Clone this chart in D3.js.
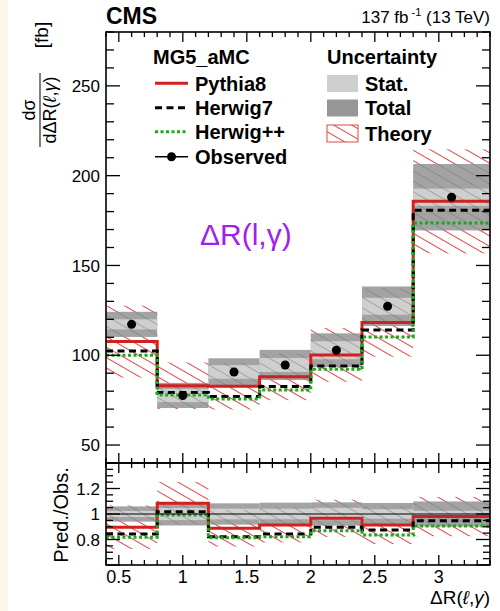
<!DOCTYPE html>
<html><head><meta charset="utf-8">
<script src="https://cdn.jsdelivr.net/npm/d3@7"></script>
<style>
html,body{margin:0;padding:0;background:#fff;}
svg{display:block;font-family:"Liberation Sans",Arial,Helvetica,sans-serif;}
</style></head>
<body>
<svg id="c" width="500" height="611"></svg>
<script>
// ---------------- data ----------------
const binEdges = [0.4, 0.8, 1.2, 1.6, 2.0, 2.4, 2.8, 3.4];
const observed = [117.2, 77.6, 90.7, 94.6, 102.8, 127.3, 188.0];
const statUnc  = [2.8, 3.7, 3.8, 3.9, 5.0, 4.7, 4.8];
const totalUnc = [7.0, 7.0, 7.6, 8.4, 9.4, 11.0, 18.5];
const pythia8  = [107.6, 83.0, 82.8, 88.0, 100.2, 118.2, 185.7];
const herwig7  = [102.4, 79.2, 77.0, 82.6, 94.0, 114.0, 180.7];
const herwigpp = [100.0, 77.8, 75.6, 80.6, 92.2, 110.2, 173.7];
const theoryUnc = [20, 13, 13, 13, 15, 19, 29];
const ratioPythia8  = [0.896, 1.084, 0.888, 0.914, 0.966, 0.914, 0.980];
const ratioHerwig7  = [0.843, 1.018, 0.822, 0.843, 0.896, 0.875, 0.948];
const ratioHerwigpp = [0.817, 0.992, 0.814, 0.822, 0.869, 0.835, 0.906];
const xTickLabels = [0.5, 1, 1.5, 2, 2.5, 3];
const yTickLabels = [50, 100, 150, 200, 250];
const rTickLabels = [0.8, 1, 1.2];

// ---------------- layout ----------------
const L = 106, R = 490, T = 32, MID = 463, B = 565;
const svg = d3.select("#c");
const x = d3.scaleLinear().domain([0.4, 3.4]).range([L, R]);
const y = d3.scaleLinear().domain([40, 280]).range([MID, T]);
const yr = d3.scaleLinear().domain([0.6, 1.4]).range([B, MID]);

const RED = "#d21f1f", GREEN = "#1fa61f", STAT = "#cfcfcf", TOTAL = "#a3a3a3", HATCH = "#e04848";

svg.append("rect").attr("x",0).attr("y",0).attr("width",8).attr("height",611).attr("fill","#fdf7e9");

const defs = svg.append("defs");
function hatchPattern(id, color, op){
  const p = defs.append("pattern").attr("id", id).attr("patternUnits","userSpaceOnUse")
    .attr("width", 10).attr("height", 9).attr("patternTransform","rotate(30)");
  p.append("line").attr("x1",-1).attr("x2",11).attr("y1",4.5).attr("y2",4.5)
    .attr("stroke", color).attr("stroke-width",1).attr("stroke-opacity",op);
}
hatchPattern("hatchRed", HATCH, 1);
hatchPattern("hatchGrey", "#6e6e6e", 0.45);
defs.append("clipPath").attr("id","clipU").append("rect").attr("x",L).attr("y",T).attr("width",R-L).attr("height",MID-T);
defs.append("clipPath").attr("id","clipR").append("rect").attr("x",L).attr("y",MID).attr("width",R-L).attr("height",B-MID);

const nb = observed.length;
const bins = d3.range(nb).map(i => ({i, x0: binEdges[i], x1: binEdges[i+1], xc: (binEdges[i]+binEdges[i+1])/2}));

function drawPanel(g, ys, obsC, statC, totC, theoC, theoU, lines){
  // theory band
  g.selectAll(null).data(bins).join("rect")
    .attr("x", d => x(d.x0)).attr("width", d => x(d.x1)-x(d.x0))
    .attr("y", d => ys(theoC[d.i]+theoU[d.i])).attr("height", d => ys(theoC[d.i]-theoU[d.i]) - ys(theoC[d.i]+theoU[d.i]))
    .attr("fill","url(#hatchRed)");
  // total
  g.selectAll(null).data(bins).join("rect")
    .attr("x", d => x(d.x0)).attr("width", d => x(d.x1)-x(d.x0))
    .attr("y", d => ys(obsC[d.i]+totC[d.i])).attr("height", d => ys(obsC[d.i]-totC[d.i]) - ys(obsC[d.i]+totC[d.i]))
    .attr("fill", TOTAL);
  // stat
  g.selectAll(null).data(bins).join("rect")
    .attr("x", d => x(d.x0)).attr("width", d => x(d.x1)-x(d.x0))
    .attr("y", d => ys(obsC[d.i]+statC[d.i])).attr("height", d => ys(obsC[d.i]-statC[d.i]) - ys(obsC[d.i]+statC[d.i]))
    .attr("fill", STAT);
  // hatch seen through the boxes
  g.selectAll(null).data(bins).join("rect")
    .attr("x", d => x(d.x0)).attr("width", d => x(d.x1)-x(d.x0))
    .attr("y", d => ys(Math.min(obsC[d.i]+totC[d.i], theoC[d.i]+theoU[d.i])))
    .attr("height", d => Math.max(0, ys(Math.max(obsC[d.i]-totC[d.i], theoC[d.i]-theoU[d.i])) - ys(Math.min(obsC[d.i]+totC[d.i], theoC[d.i]+theoU[d.i]))))
    .attr("fill","url(#hatchGrey)");
  // step lines
  lines.forEach(s => {
    const pts = s.vals.map((v,i) => [binEdges[i], v]);
    pts.push([binEdges[nb], s.vals[nb-1]]);
    g.append("path").attr("d", d3.line().x(p => x(p[0])).y(p => ys(p[1])).curve(d3.curveStepAfter)(pts))
      .attr("fill","none").attr("stroke", s.color).attr("stroke-width", 3)
      .attr("stroke-dasharray", s.dash || null);
  });
}

const gU = svg.append("g").attr("clip-path","url(#clipU)");
drawPanel(gU, y, observed, statUnc, totalUnc, pythia8, theoryUnc, [
  {vals: pythia8, color: RED},
  {vals: herwig7, color: "#000", dash: "7,4.5"},
  {vals: herwigpp, color: GREEN, dash: "3,2.5"}
]);
gU.selectAll(null).data(bins).join("circle")
  .attr("cx", d => x(d.xc)).attr("cy", d => y(observed[d.i])).attr("r", 4.5).attr("fill","#000");

const gR = svg.append("g").attr("clip-path","url(#clipR)");
const ones = observed.map(() => 1);
drawPanel(gR, yr, ones, statUnc.map((s,i)=>s/observed[i]), totalUnc.map((s,i)=>s/observed[i]),
  ratioPythia8, theoryUnc.map((s,i)=>s/observed[i]), [
  {vals: ratioPythia8, color: RED},
  {vals: ratioHerwig7, color: "#000", dash: "7,4.5"},
  {vals: ratioHerwigpp, color: GREEN, dash: "3,2.5"}
]);
gR.append("line").attr("x1",L).attr("x2",R).attr("y1",yr(1)).attr("y2",yr(1)).attr("stroke","#000").attr("stroke-width",1);

// ---------------- frames & ticks ----------------
const ax = svg.append("g").attr("stroke","#000").attr("stroke-width",1.3);
ax.append("rect").attr("x",L).attr("y",T).attr("width",R-L).attr("height",MID-T).attr("fill","none").attr("stroke-width",1.6);
ax.append("rect").attr("x",L).attr("y",MID).attr("width",R-L).attr("height",B-MID).attr("fill","none").attr("stroke-width",1.6);

const xMinor = d3.range(4, 35).map(v => v/10);
const isMajorX = v => Math.abs(v*2 - Math.round(v*2)) < 1e-6;
function xTicks(yPos, dir){
  xMinor.forEach(v => {
    const len = isMajorX(v) ? 10 : 5;
    ax.append("line").attr("x1",x(v)).attr("x2",x(v)).attr("y1",yPos).attr("y2",yPos+dir*len);
  });
}
xTicks(T, 1); xTicks(MID, -1); xTicks(MID, 1); xTicks(B, -1);

d3.range(40, 281, 10).forEach(v => {
  const len = (v % 50 === 0) ? 14 : 8;
  ax.append("line").attr("x1",L).attr("x2",L+len).attr("y1",y(v)).attr("y2",y(v));
  ax.append("line").attr("x1",R).attr("x2",R-len).attr("y1",y(v)).attr("y2",y(v));
});
d3.range(12, 29).map(v => v*0.05).forEach(v => {
  const major = Math.abs(v*5 - Math.round(v*5)) < 1e-6;
  const len = major ? 14 : 7;
  ax.append("line").attr("x1",L).attr("x2",L+len).attr("y1",yr(v)).attr("y2",yr(v));
  ax.append("line").attr("x1",R).attr("x2",R-len).attr("y1",yr(v)).attr("y2",yr(v));
});

// ---------------- labels ----------------
const txt = svg.append("g").attr("fill","#000");
yTickLabels.forEach(v => txt.append("text").attr("x", L-6).attr("y", y(v)).attr("dy","0.36em")
  .attr("text-anchor","end").attr("font-size",17).text(v));
rTickLabels.forEach(v => txt.append("text").attr("x", L-6).attr("y", yr(v)).attr("dy","0.36em")
  .attr("text-anchor","end").attr("font-size",17).text(v));
xTickLabels.forEach(v => txt.append("text").attr("x", x(v)).attr("y", 583)
  .attr("text-anchor","middle").attr("font-size",18).text(v));

// x-axis title
const xt = txt.append("text").attr("x", R).attr("y", 604).attr("text-anchor","end").attr("font-size",19);
xt.append("tspan").text("ΔR(");
xt.append("tspan").attr("font-style","italic").text("ℓ");
xt.append("tspan").text(",");
xt.append("tspan").attr("font-style","italic").text("γ");
xt.append("tspan").text(")");

// upper y title (rotated fraction)
const yl = txt.append("g").attr("transform","rotate(-90)");
yl.append("text").attr("x",-110).attr("y",35).attr("text-anchor","middle").attr("font-size",18).text("dσ");
yl.append("line").attr("x1",-147).attr("x2",-73).attr("y1",40).attr("y2",40).attr("stroke","#000").attr("stroke-width",1);
const den = yl.append("text").attr("x",-110).attr("y",56).attr("text-anchor","middle").attr("font-size",18);
den.append("tspan").text("dΔR(");
den.append("tspan").attr("font-style","italic").text("ℓ");
den.append("tspan").text(",");
den.append("tspan").attr("font-style","italic").text("γ");
den.append("tspan").text(")");
yl.append("text").attr("x",-35).attr("y",48).attr("text-anchor","middle").attr("font-size",19).text("[fb]");

// ratio y title
txt.append("text").attr("transform","rotate(-90)").attr("x",-515).attr("y",68)
  .attr("text-anchor","middle").attr("font-size",20).text("Pred./Obs.");

// header
txt.append("text").attr("x", L).attr("y", 24).attr("font-size",23).attr("font-weight","bold").text("CMS");
const lum = txt.append("text").attr("x", R).attr("y", 23).attr("text-anchor","end").attr("font-size",17);
lum.append("tspan").text("137 fb");
lum.append("tspan").attr("font-size",11).attr("dy",-7).text(" -1");
lum.append("tspan").attr("dy",7).text(" (13 TeV)");

// annotation
txt.append("text").attr("x", 200).attr("y", 245).attr("font-size",30).attr("fill","#a020f0").text("ΔR(l,γ)");

// ---------------- legend ----------------
const lg = svg.append("g");
lg.append("text").attr("x",153).attr("y",64).attr("font-size",20).attr("font-weight","bold").text("MG5_aMC");
const rows = [
  {name:"Pythia8", color:RED, dash:null, yc:83.3},
  {name:"Herwig7", color:"#000", dash:"7,4.5", yc:107.7},
  {name:"Herwig++", color:GREEN, dash:"3,2.5", yc:131.7}
];
rows.forEach(r => {
  lg.append("line").attr("x1",155).attr("x2",188).attr("y1",r.yc).attr("y2",r.yc)
    .attr("stroke",r.color).attr("stroke-width",3).attr("stroke-dasharray",r.dash);
  lg.append("text").attr("x",195).attr("y",r.yc+7.3).attr("font-size",20).attr("font-weight","bold").text(r.name);
});
lg.append("line").attr("x1",155).attr("x2",188).attr("y1",156.7).attr("y2",156.7).attr("stroke","#000").attr("stroke-width",1.5);
lg.append("circle").attr("cx",171.5).attr("cy",156.7).attr("r",4.5).attr("fill","#000");
lg.append("text").attr("x",195).attr("y",164).attr("font-size",20).attr("font-weight","bold").text("Observed");

lg.append("text").attr("x",327).attr("y",64).attr("font-size",20).attr("font-weight","bold").text("Uncertainty");
const boxes = [
  {name:"Stat.", fill:STAT, yc:83.5},
  {name:"Total", fill:"#969696", yc:108},
  {name:"Theory", fill:"url(#hatchRed)", yc:133.5, stroke:HATCH}
];
boxes.forEach(b => {
  if (b.stroke) lg.append("rect").attr("x",327).attr("y",b.yc-8.5).attr("width",31).attr("height",17).attr("fill","#fff");
  lg.append("rect").attr("x",327).attr("y",b.yc-8.5).attr("width",31).attr("height",17)
    .attr("fill",b.fill).attr("stroke",b.stroke||"none").attr("stroke-width",1);
  lg.append("text").attr("x",365).attr("y",b.yc+7).attr("font-size",20).attr("font-weight","bold").text(b.name);
});
</script>
</body></html>
